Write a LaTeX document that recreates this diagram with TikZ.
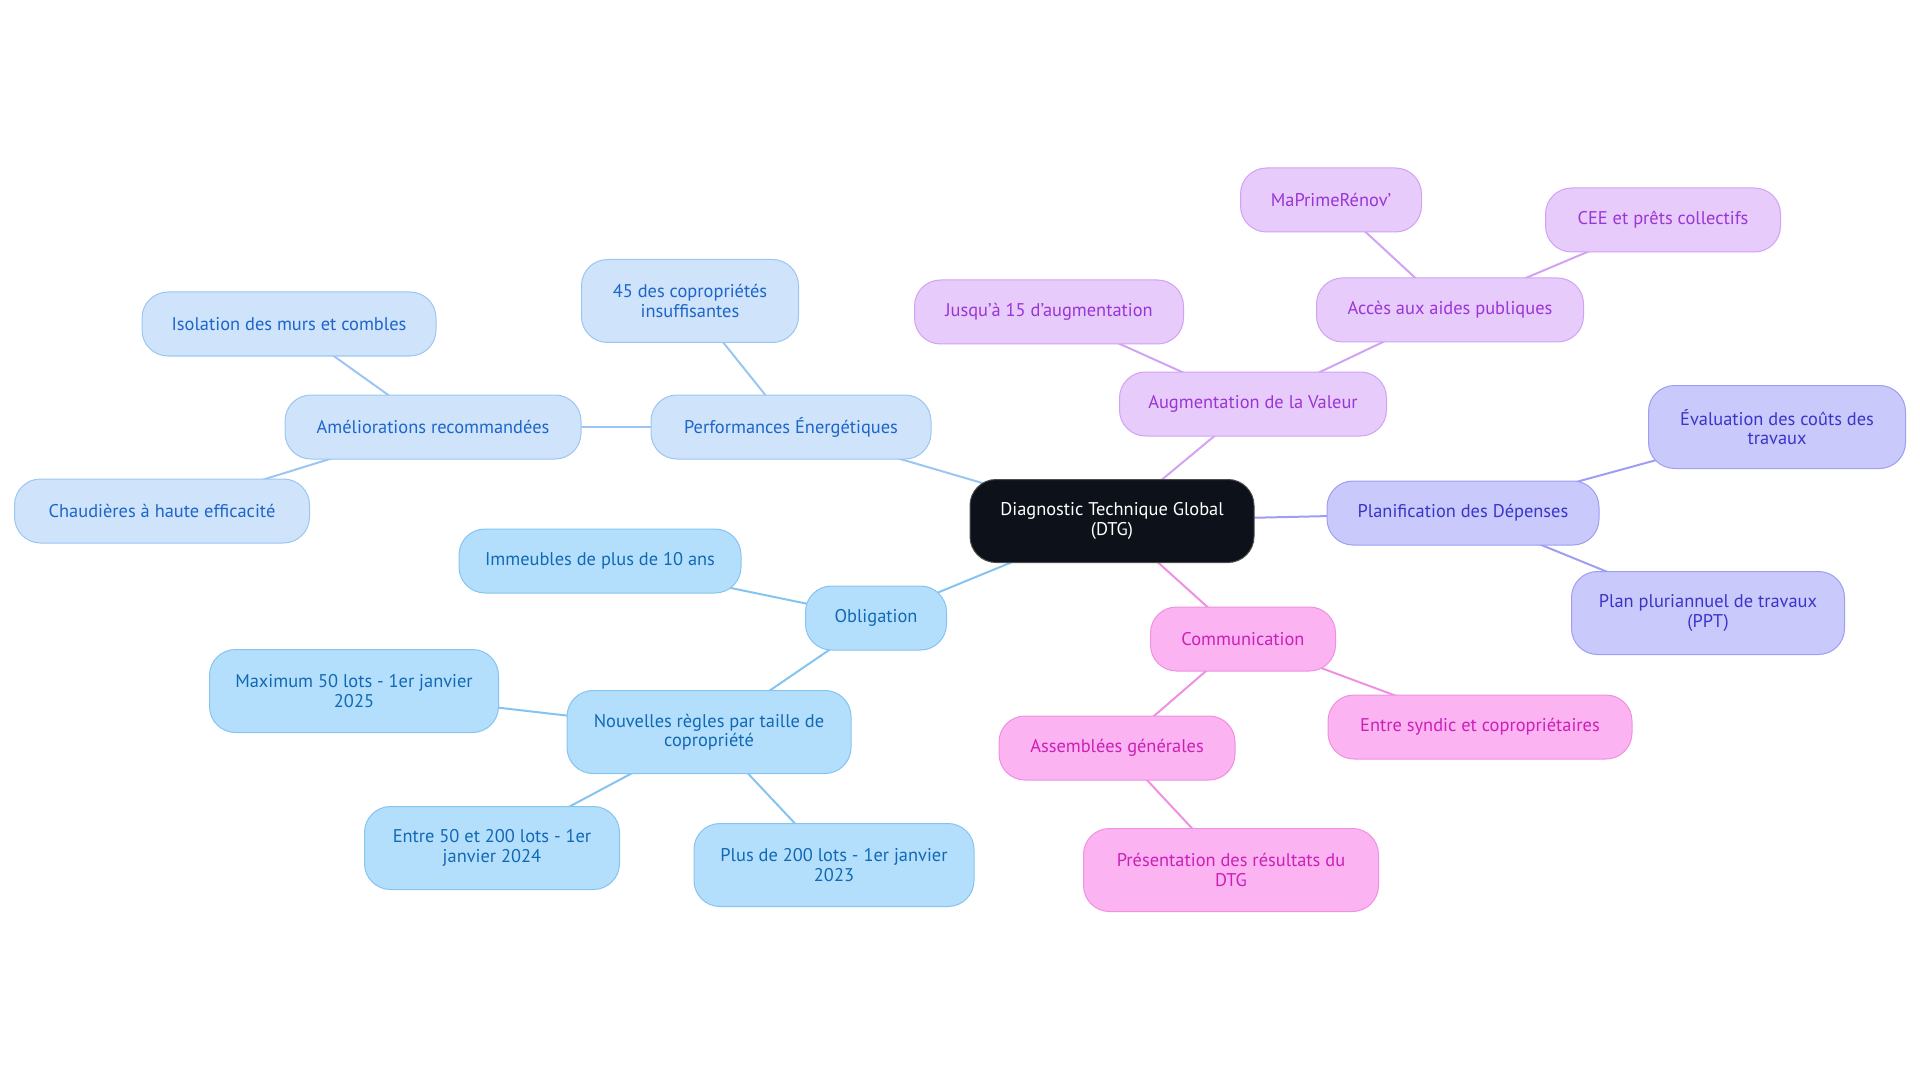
\documentclass[tikz,border=0pt]{standalone}
\usepackage{fontspec}
\setmainfont{PT Sans}
\usetikzlibrary{backgrounds}
\definecolor{rootFill}{HTML}{0D111A}
\definecolor{perfFill}{HTML}{CFE3FB}
\definecolor{perfLine}{HTML}{9CC6F2}
\definecolor{perfText}{HTML}{1D66C9}
\definecolor{oblFill}{HTML}{B4DFFC}
\definecolor{oblLine}{HTML}{86C4F0}
\definecolor{oblText}{HTML}{1169B5}
\definecolor{augFill}{HTML}{E6CBFB}
\definecolor{augLine}{HTML}{D2A2F3}
\definecolor{augText}{HTML}{9B35D6}
\definecolor{planFill}{HTML}{C9C9FC}
\definecolor{planLine}{HTML}{9E9EF2}
\definecolor{planText}{HTML}{3B35C7}
\definecolor{comFill}{HTML}{FBB4F1}
\definecolor{comLine}{HTML}{EF90E0}
\definecolor{comText}{HTML}{CC1FB7}

\begin{document}
\begin{tikzpicture}[x=1pt, y=-1pt, font=\fontsize{18.4}{19.5}\selectfont,
  box/.style={draw, line width=1pt, rounded corners=26pt, minimum height=64pt, inner xsep=24pt, align=center},
  twoline/.style={minimum height=83pt},
  rootbox/.style={box, fill=rootFill, draw=black!70, text=white},
  perfbox/.style={box, fill=perfFill, draw=perfLine, text=perfText},
  oblbox/.style={box, fill=oblFill, draw=oblLine, text=oblText},
  augbox/.style={box, fill=augFill, draw=augLine, text=augText},
  planbox/.style={box, fill=planFill, draw=planLine, text=planText},
  combox/.style={box, fill=comFill, draw=comLine, text=comText},
  link/.style={line width=2pt}]
  \useasboundingbox (0,0) rectangle (1920,1083);

  \node[rootbox, twoline, minimum width=284pt] (dtg) at (1112,521) {Diagnostic Technique Global\\(DTG)};

  % performances energetiques
  \node[perfbox, minimum width=280pt] (perf) at (791,427) {Performances Énergétiques};
  \node[perfbox, twoline, minimum width=217pt] (insuf) at (690,301) {45 des copropriétés\\insuffisantes};
  \node[perfbox, minimum width=296pt] (amelio) at (433,427) {Améliorations recommandées};
  \node[perfbox, minimum width=294pt] (isol) at (289,324) {Isolation des murs et combles};
  \node[perfbox, minimum width=295pt] (chaud) at (162,511) {Chaudières à haute efficacité};

  % obligation
  \node[oblbox, minimum width=141pt] (oblig) at (876,618) {Obligation};
  \node[oblbox, minimum width=282pt] (immeub) at (600,561) {Immeubles de plus de 10 ans};
  \node[oblbox, twoline, minimum width=284pt] (regles) at (709,732) {Nouvelles règles par taille de\\copropriété};
  \node[oblbox, twoline, minimum width=289pt] (max50) at (354,691) {Maximum 50 lots - 1er janvier\\2025};
  \node[oblbox, twoline, minimum width=255pt] (entre50) at (492,848) {Entre 50 et 200 lots - 1er\\janvier 2024};
  \node[oblbox, twoline, minimum width=280pt] (plus200) at (834,865) {Plus de 200 lots - 1er janvier\\2023};

  % valeur
  \node[augbox, minimum width=267pt] (valeur) at (1253,404) {Augmentation de la Valeur};
  \node[augbox, minimum width=269pt] (jusqua) at (1049,312) {Jusqu'à 15 d'augmentation};
  \node[augbox, minimum width=267pt] (aides) at (1450,310) {Accès aux aides publiques};
  \node[augbox, minimum width=181pt] (maprime) at (1331,200) {MaPrimeRénov’};
  \node[augbox, minimum width=235pt] (cee) at (1663,220) {CEE et prêts collectifs};

  % depenses
  \node[planbox, minimum width=272pt] (planif) at (1463,513) {Planification des Dépenses};
  \node[planbox, twoline, minimum width=257pt] (evalu) at (1777,427) {Évaluation des coûts des\\travaux};
  \node[planbox, twoline, minimum width=273pt] (ppt) at (1708,613) {Plan pluriannuel de travaux\\(PPT)};

  % communication
  \node[combox, minimum width=185pt] (comm) at (1243,639) {Communication};
  \node[combox, minimum width=236pt] (assemb) at (1117,748) {Assemblées générales};
  \node[combox, minimum width=304pt] (syndic) at (1480,727) {Entre syndic et copropriétaires};
  \node[combox, twoline, minimum width=295pt] (present) at (1231,870) {Présentation des résultats du\\DTG};

  \begin{scope}[on background layer]
    \foreach \a/\b in {dtg/perf, perf/insuf, perf/amelio, amelio/isol, amelio/chaud}
      \draw[link, perfLine] (\a.center) -- (\b.center);
    \foreach \a/\b in {dtg/oblig, oblig/immeub, oblig/regles, regles/max50, regles/entre50, regles/plus200}
      \draw[link, oblLine] (\a.center) -- (\b.center);
    \foreach \a/\b in {dtg/valeur, valeur/jusqua, valeur/aides, aides/maprime, aides/cee}
      \draw[link, augLine] (\a.center) -- (\b.center);
    \foreach \a/\b in {dtg/planif, planif/evalu, planif/ppt}
      \draw[link, planLine] (\a.center) -- (\b.center);
    \foreach \a/\b in {dtg/comm, comm/assemb, comm/syndic, assemb/present}
      \draw[link, comLine] (\a.center) -- (\b.center);
  \end{scope}
\end{tikzpicture}
\end{document}
